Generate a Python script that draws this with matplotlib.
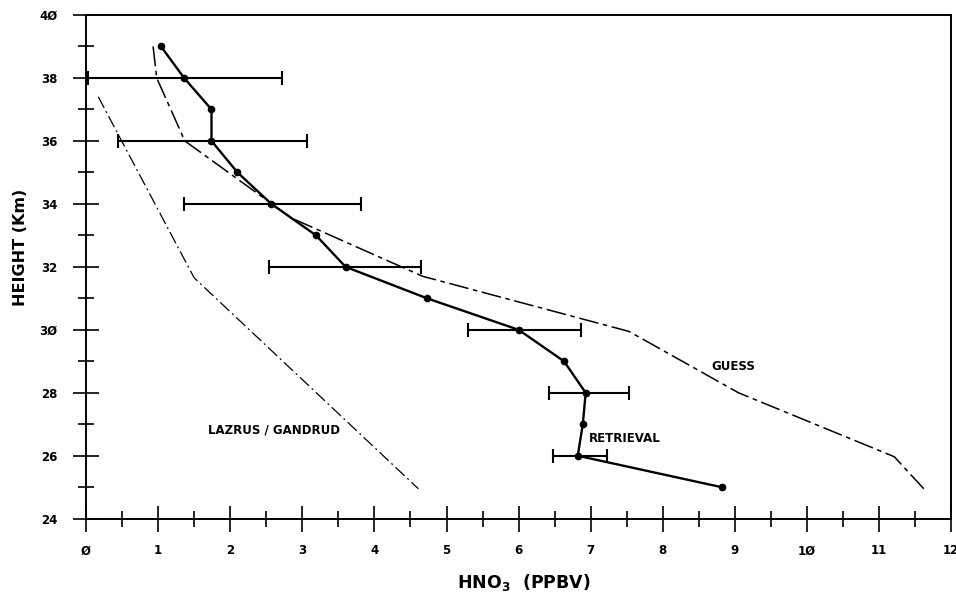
import matplotlib
matplotlib.use("Agg")
import matplotlib.pyplot as plt

# retrieved HNO3 profile (solid line with dots)
ret_height = [39, 38, 37, 36, 35, 34, 33, 32, 31, 30, 29, 28, 27, 26, 25]
ret_hno3 = [1.04, 1.36, 1.74, 1.74, 2.1, 2.57, 3.19, 3.6, 4.73, 6.0, 6.63, 6.93, 6.89, 6.82, 8.82]

# error bars on the retrieval (left / right ends)
err_height = [38, 36, 34, 32, 30, 28, 26]
err_center = [1.36, 1.74, 2.57, 3.6, 6.0, 6.93, 6.82]
err_low = [0.03, 0.45, 1.36, 2.54, 5.3, 6.42, 6.47]
err_high = [2.72, 3.07, 3.82, 4.65, 6.86, 7.53, 7.23]

# first guess profile
guess_height = [39.0, 38.0, 36.0, 33.55, 31.7, 29.95, 28.0, 25.97, 24.95]
guess_hno3 = [0.93, 0.98, 1.37, 2.85, 4.67, 7.53, 9.05, 11.21, 11.62]

# Lazrus / Gandrud profile
lg_height = [37.4, 31.65, 24.95]
lg_hno3 = [0.17, 1.5, 4.61]

xticks = list(range(0, 13))
xticklabels = ["Ø", "1", "2", "3", "4", "5", "6", "7", "8", "9", "1Ø", "11", "12"]
yticks = list(range(24, 41, 2))
yticklabels = ["24", "26", "28", "3Ø", "32", "34", "36", "38", "4Ø"]

fig = plt.figure(figsize=(9.56, 5.99), dpi=100)
ax = fig.add_axes([0.090, 0.134, 0.905, 0.841])

ax.plot(lg_hno3, lg_height, color="black", lw=0.9, linestyle=(0, (10, 3, 1.5, 3)))
ax.plot(guess_hno3, guess_height, color="black", lw=1.1, linestyle=(0, (13, 3, 3, 3)))

xerr = [[c - lo for c, lo in zip(err_center, err_low)],
        [hi - c for c, hi in zip(err_center, err_high)]]
ax.errorbar(err_center, err_height, xerr=xerr, fmt="none", ecolor="black",
            elinewidth=1.5, capsize=5, capthick=1.5)
ax.plot(ret_hno3, ret_height, color="black", lw=1.7, marker="o", markersize=4.5)

ax.text(8.67, 28.83, "GUESS", fontsize=8.5, fontweight="bold", va="center", ha="left")
ax.text(6.98, 26.54, "RETRIEVAL", fontsize=8.5, fontweight="bold", va="center", ha="left")
ax.text(1.69, 26.83, "LAZRUS / GANDRUD", fontsize=8.5, fontweight="bold", va="center", ha="left")

ax.set_xlim(0, 12)
ax.set_ylim(24, 40)
ax.set_xticks(xticks)
ax.set_xticklabels(xticklabels)
ax.set_xticks([i + 0.5 for i in range(12)], minor=True)
ax.set_yticks(yticks)
ax.set_yticklabels(yticklabels)
ax.set_yticks(list(range(25, 40, 2)), minor=True)

ax.tick_params(axis="both", which="major", direction="inout", length=19, width=1.2,
               labelsize=8.5)
ax.tick_params(axis="both", which="minor", direction="inout", length=11, width=1.2)
ax.tick_params(axis="x", which="major", pad=9)
ax.tick_params(axis="y", which="major", pad=11)
for lbl in ax.get_xticklabels() + ax.get_yticklabels():
    lbl.set_fontweight("semibold")

for spine in ax.spines.values():
    spine.set_linewidth(1.4)

ax.set_xlabel(r"HNO$_\mathbf{3}$  (PPBV)", fontsize=12.5, fontweight="bold")
ax.xaxis.set_label_coords(0.506, -0.105)
ax.set_ylabel("HEIGHT (Km)", fontsize=11.5, fontweight="bold")
ax.yaxis.set_label_coords(-0.067, 0.538)

fig.savefig("out.png", dpi=100)
